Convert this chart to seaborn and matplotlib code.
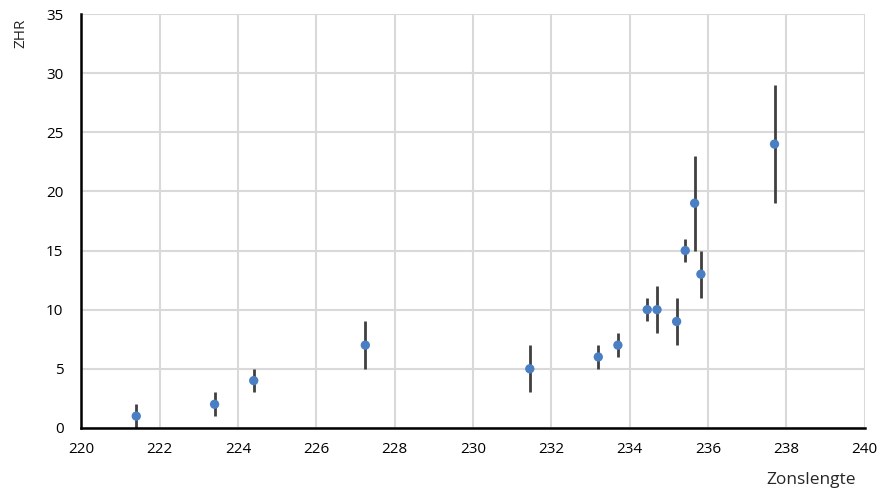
import matplotlib
matplotlib.use("Agg")
import matplotlib.pyplot as plt
import seaborn as sns
import pandas as pd

# Solar longitude (degrees) and zenithal hourly rate with uncertainty
solar_longitude = [221.4, 223.4, 224.4, 227.25, 231.45, 233.2, 233.7, 234.45, 234.7,
                   235.2, 235.42, 235.66, 235.82, 237.7]
zhr = [1, 2, 4, 7, 5, 6, 7, 10, 10, 9, 15, 19, 13, 24]
zhr_err = [1, 1, 1, 2, 2, 1, 1, 1, 2, 2, 1, 4, 2, 5]

x_ticks = [220, 222, 224, 226, 228, 230, 232, 234, 236, 238, 240]
y_ticks = [0, 5, 10, 15, 20, 25, 30, 35]

df = pd.DataFrame({"Zonslengte": solar_longitude, "ZHR": zhr, "err": zhr_err})

sns.set_theme(style="white")
plt.rcParams["font.family"] = ["Open Sans", "DejaVu Sans"]

fig = plt.figure(figsize=(8.95, 4.93), dpi=100)
ax = fig.add_axes([0.091, 0.132, 0.875, 0.8396])

ax.errorbar(df["Zonslengte"], df["ZHR"], yerr=df["err"], fmt="none",
            ecolor="#404040", elinewidth=2, capsize=0, zorder=2)
sns.scatterplot(data=df, x="Zonslengte", y="ZHR", ax=ax, color="#4a7fc4",
                s=45, edgecolor="none", zorder=3)

ax.set_xlim(220, 240)
ax.set_ylim(0, 35)
ax.set_xticks(x_ticks)
ax.set_yticks(y_ticks)
ax.grid(True, color="#d9d9d9", linewidth=1.5)
ax.set_axisbelow(True)

for side in ["top", "right"]:
    ax.spines[side].set_visible(False)
for side in ["left", "bottom"]:
    ax.spines[side].set_color("black")
    ax.spines[side].set_linewidth(1.8)
    ax.spines[side].set_zorder(4)

ax.tick_params(axis="both", length=0, labelsize=11, colors="black")
ax.tick_params(axis="y", pad=13)
ax.tick_params(axis="x", pad=10)

ax.set_xlabel("")
ax.set_ylabel("")
fig.text(0.0235, 0.933, "ZHR", rotation=90, ha="center", va="center", fontsize=11)
fig.text(0.956, 0.01, "Zonslengte", ha="right", va="bottom", fontsize=12.5)

fig.savefig("out.png", dpi=100)
